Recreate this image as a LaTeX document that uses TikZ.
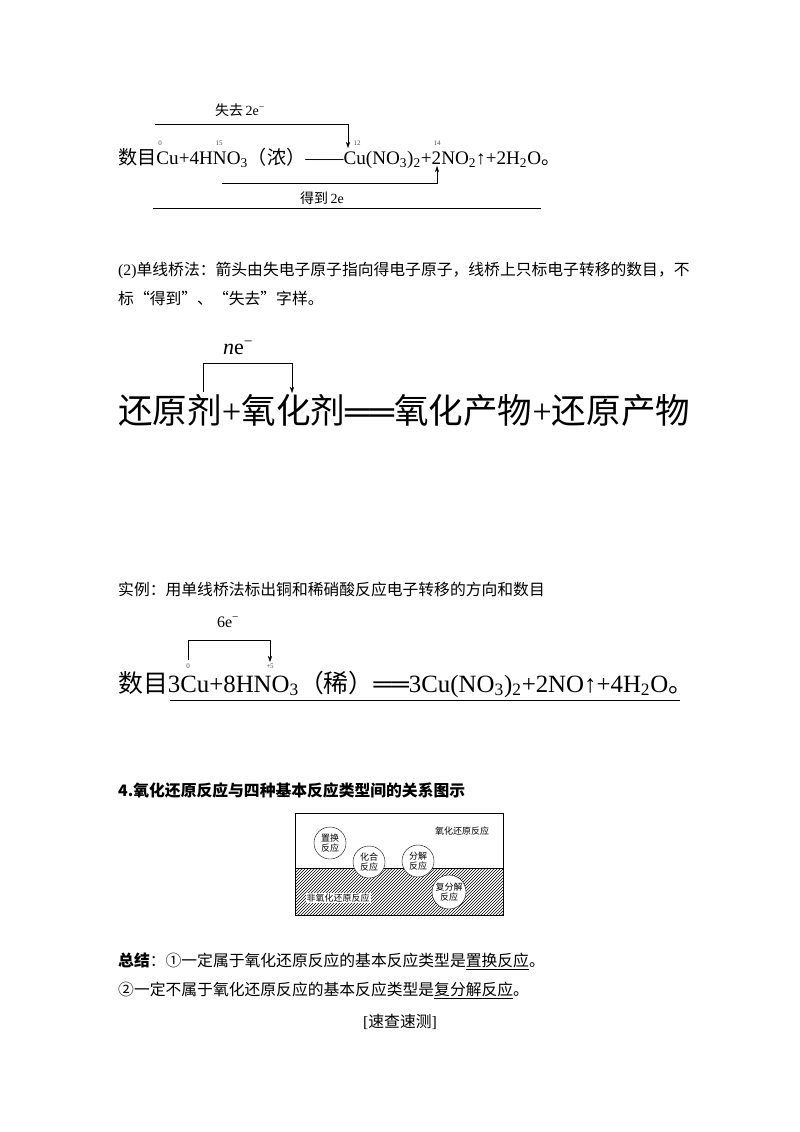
\documentclass[tikz,border=0pt]{standalone}
\usepackage{fontspec}
\setmainfont{Liberation Serif}
\newfontfamily\cjk{Noto Sans CJK SC}
\newcommand{\zh}[1]{{\cjk #1}}
\usetikzlibrary{patterns,arrows.meta}
\begin{document}
\begin{tikzpicture}[x=1pt,y=-1pt,
  body/.style={anchor=west,inner sep=0,font=\fontsize{15.8}{18}\selectfont},
  ox/.style={inner sep=0,font=\fontsize{7}{8}\selectfont,text=black!70},
  arr/.style={-{Stealth[length=6pt,width=4pt]},thin},
  ln/.style={thin},
  circ/.style={circle,draw,fill=white,inner sep=0,minimum size=32pt,align=center,font=\fontsize{9}{10}\cjk\selectfont}]
\useasboundingbox (0,0) rectangle (800,1132);
\fill[white] (0,0) rectangle (800,1132);
% --- top equation
\node[body] (eq1) at (118,158) {\resizebox{442pt}{!}{\zh{数目}Cu+4HNO\textsubscript{3}\zh{（浓）}——Cu(NO\textsubscript{3})\textsubscript{2}+2NO\textsubscript{2}↑+2H\textsubscript{2}O\zh{。}}};
\node[ox] (o1) at (160,143) {0};
\node[ox] (o2) at (219,143) {15};
\node[ox] (o3) at (357,143) {12};
\node[ox] (o4) at (437,143) {14};
\node[body,anchor=center,font=\fontsize{14}{16}\selectfont] (lose) at (240,110) {\zh{失去}\,2e\textsuperscript{−}};
\coordinate (a1) at (155,124); \coordinate (a2) at (348,124); \coordinate (a3) at (348,148);
\draw[arr] (a1) -- (a2) -- (a3);
\coordinate (b1) at (222,183); \coordinate (b2) at (437,183); \coordinate (b3) at (437,166);
\draw[arr] (b1) -- (b2) -- (b3);
\node[body,anchor=center,font=\fontsize{14}{16}\selectfont] (gain) at (322,198) {\zh{得到}\,2e};
\coordinate (u1) at (153,208); \coordinate (u2) at (541,208);
\draw[ln] (u1) -- (u2);
% --- (2)
\node[body] (t1) at (118,270) {(2)\zh{单线桥法：箭头由失电子原子指向得电子原子，线桥上只标电子转移的数目，不}};
\node[body] (t2) at (118,298) {\zh{标“得到”、“失去”字样。}};
% --- big equation
\node[body] (eq2) at (118,410) {\resizebox{572pt}{!}{\zh{还原剂}+\zh{氧化剂}══\zh{氧化产物}+\zh{还原产物}}};
\node[body,anchor=center,font=\fontsize{22}{24}\selectfont] (ne) at (238,348) {\textit{n}e\textsuperscript{−}};
\coordinate (c1) at (203,392); \coordinate (c2) at (203,363); \coordinate (c3) at (292,363); \coordinate (c4) at (292,393);
\draw[arr] (c1) -- (c2) -- (c3) -- (c4);
% --- example
\node[body] (t3) at (118,589) {\zh{实例：用单线桥法标出铜和稀硝酸反应电子转移的方向和数目}};
\node[body,anchor=center,font=\fontsize{16}{18}\selectfont] (six) at (228,622) {6e\textsuperscript{−}};
\coordinate (d1) at (188,660); \coordinate (d2) at (188,640); \coordinate (d3) at (270,640); \coordinate (d4) at (270,662);
\draw[arr] (d1) -- (d2) -- (d3) -- (d4);
\node[ox] (p1) at (188,666) {0};
\node[ox] (p2) at (270,666) {+5};
\node[body] (eq3) at (118,684) {\resizebox{575pt}{!}{\zh{数目}3Cu+8HNO\textsubscript{3}\zh{（稀）}══3Cu(NO\textsubscript{3})\textsubscript{2}+2NO↑+4H\textsubscript{2}O\zh{。}}};
\coordinate (v1) at (170,700); \coordinate (v2) at (680,700);
\draw[ln] (v1) -- (v2);
% --- 4.
\node[body,font=\fontsize{15.8}{18}\cjk\bfseries\selectfont] (t4) at (118,790) {4.氧化还原反应与四种基本反应类型间的关系图示};
\fill[pattern=north east lines] (295,868) rectangle (503,915);
\draw (295,868) -- (503,868);
\draw (295,813) rectangle (503,915);
\node[circ] (k1) at (330,843) {置换\\反应};
\node[circ] (k2) at (369,862) {化合\\反应};
\node[circ] (k3) at (418,861) {分解\\反应};
\node[circ,minimum size=34pt] (k4) at (449,892) {复分解\\反应};
\node[inner sep=0,font=\fontsize{9}{10}\cjk\selectfont] (r1) at (462,831) {氧化还原反应};
\node[inner sep=1pt,fill=white,font=\fontsize{9}{10}\cjk\selectfont] (r2) at (338,898) {非氧化还原反应};
% --- summary
\node[body] (s1) at (118,961) {\zh{\textbf{总结}：①一定属于氧化还原反应的基本反应类型是\underline{置换反应}。}};
\node[body] (s2) at (118,990) {\zh{②一定不属于氧化还原反应的基本反应类型是\underline{复分解反应}。}};
\node[body,anchor=center] (s3) at (400,1022) {[\zh{速查速测}]};
\end{tikzpicture}
\end{document}
